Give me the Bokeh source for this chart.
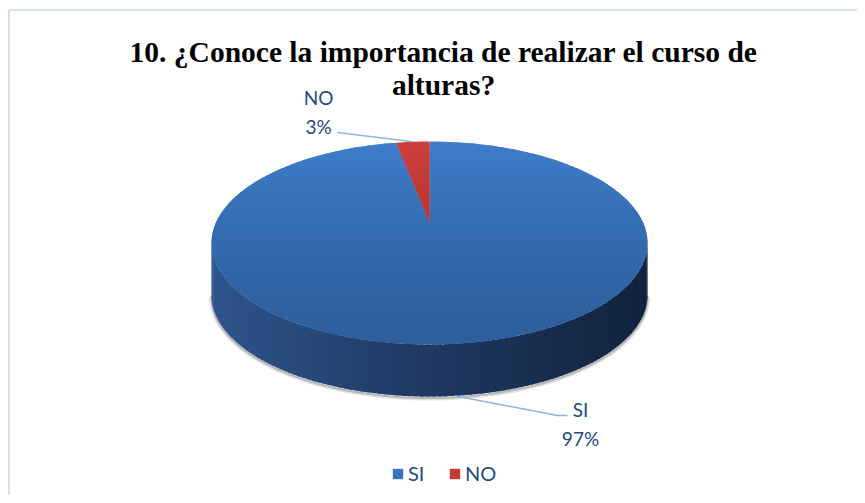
import math
import numpy as np
from bokeh.plotting import figure
from bokeh.models import Range1d, Label, Legend, LegendItem
from bokeh.embed import file_html
from bokeh.resources import INLINE

# ---------------- data ----------------
categories = ["SI", "NO"]
values = [97, 3]
title_lines = ["10. ¿Conoce la importancia de realizar el curso de", "alturas?"]

# ---------------- styles / layout ----------------
top_grad = {"SI": ((62, 126, 201), (45, 94, 157)), "NO": ((204, 64, 60), (165, 44, 43))}
side_grad = ((46, 85, 140), (31, 57, 98), (18, 35, 61))
legend_colors = {"SI": "#3a74bd", "NO": "#c13c39"}
label_color = "#24497f"
leader_color = "#8db3e2"
label_pos = {"SI": (580, 409), "NO": (318, 97)}
leader_end = {"SI": [(557, 415), (567, 415)], "NO": [(337, 132)]}

# perspective pie geometry (screen px)
CX, CY0, KP, PP, AX, DEPTH = 429.0, 222.0, 0.202, -52.5, 213.5, 52.0


def proj(s, t, drop=0.0):
    den = 1.0 + KP * t
    return CX + AX * s / den, (PP * t + CY0) / den + drop


def lerp(c1, c2, f):
    return tuple(int(round(a + (b - a) * f)) for a, b in zip(c1, c2))


def hexc(c):
    return "#%02x%02x%02x" % c


def clip(poly, tlo, thi):
    def clip_half(pts, keep, inter):
        out = []
        n = len(pts)
        for i in range(n):
            cur, prv = pts[i], pts[i - 1]
            if keep(cur):
                if not keep(prv):
                    out.append(inter(prv, cur))
                out.append(cur)
            elif keep(prv):
                out.append(inter(prv, cur))
        return out

    def inter_at(tv):
        def f(a, b):
            u = (tv - a[1]) / (b[1] - a[1])
            return (a[0] + u * (b[0] - a[0]), tv)
        return f

    pts = clip_half(poly, lambda q: q[1] >= tlo, inter_at(tlo))
    if not pts:
        return []
    pts = clip_half(pts, lambda q: q[1] <= thi, inter_at(thi))
    return pts


p = figure(width=857, height=495, output_backend="svg", toolbar_location=None,
           x_range=Range1d(0, 857), y_range=Range1d(495, 0), min_border=0,
           x_axis_location=None, y_axis_location=None)
p.grid.visible = False
p.outline_line_color = None
p.background_fill_color = "white"

# chart border
p.line([8.5, 857], [9.5, 9.5], line_color="#d6e1f0", line_width=2)
p.line([8.5, 8.5], [9.5, 495], line_color="#d6e1f0", line_width=2)

total = float(sum(values))
angles = []
acc = 0.0
for v in values:
    a0 = acc / total * 2 * math.pi
    acc += v
    a1 = acc / total * 2 * math.pi
    angles.append((a0, a1))

# ---- side wall (front visible part) ----
thL = math.acos(-KP)
thR = 2 * math.pi - thL
xa, _ = proj(math.sin(thL), math.cos(thL))
xb, _ = proj(math.sin(thR), math.cos(thR))
x_left, x_right = min(xa, xb), max(xa, xb)

sh = np.linspace(thL, thR, 120)
sx, sy = zip(*[proj(math.sin(a), math.cos(a), DEPTH + 1.5) for a in sh])
p.line(list(sx), list(sy), line_color="#777777", line_alpha=0.22, line_width=5)
p.line(list(sx), list(sy), line_color="#666666", line_alpha=0.35, line_width=2)

side_xs, side_ys, side_cols = [], [], []
for (a0, a1) in angles:
    lo, hi = max(a0, thL), min(a1, thR)
    if hi <= lo:
        continue
    n = max(2, int((hi - lo) / (thR - thL) * 120))
    th = np.linspace(lo, hi, n + 1)
    step = th[1] - th[0]
    for i in range(n):
        b0 = th[i]
        b1 = min(hi, th[i + 1] + 0.6 * step)
        p00 = proj(math.sin(b0), math.cos(b0))
        p10 = proj(math.sin(b1), math.cos(b1))
        p11 = proj(math.sin(b1), math.cos(b1), DEPTH)
        p01 = proj(math.sin(b0), math.cos(b0), DEPTH)
        bm = th[i] + step / 2
        xm, _ = proj(math.sin(bm), math.cos(bm))
        f = (xm - x_left) / (x_right - x_left)
        if f < 0.5:
            c = lerp(side_grad[0], side_grad[1], f / 0.5)
        else:
            c = lerp(side_grad[1], side_grad[2], (f - 0.5) / 0.5)
        side_xs.append([p00[0], p10[0], p11[0], p01[0]])
        side_ys.append([p00[1], p10[1], p11[1], p01[1]])
        side_cols.append(hexc(c))
p.patches(side_xs, side_ys, fill_color=side_cols, line_color=None)

# ---- top faces with vertical gradient ----
NB = 70
tb = np.linspace(1.0, -1.0, NB + 1)
for cat, (a0, a1) in zip(categories, angles):
    m = max(8, int((a1 - a0) / (2 * math.pi) * 360))
    arc = np.linspace(a0, a1, m + 1)
    poly = [(0.0, 0.0)] + [(math.sin(a), math.cos(a)) for a in arc]
    xs, ys, cols = [], [], []
    for i in range(NB):
        thi = tb[i]
        tlo = max(-1.0, tb[i + 1] - 0.02)
        part = clip(poly, tlo, thi)
        if len(part) < 3:
            continue
        pr = [proj(s, t) for s, t in part]
        f = i / (NB - 1)
        c = hexc(lerp(top_grad[cat][0], top_grad[cat][1], f))
        xs.append([q[0] for q in pr])
        ys.append([q[1] for q in pr])
        cols.append(c)
    p.patches(xs, ys, fill_color=cols, line_color=None)

# ---- data labels with leader lines ----
lab_x, lab_y, lab_t = [], [], []
for cat, v, (a0, a1) in zip(categories, values, angles):
    am = (a0 + a1) / 2
    s, t = math.sin(am), math.cos(am)
    front = t < -KP
    anchor = proj(s, t, DEPTH if front else 0.0)
    pts = [anchor] + leader_end[cat]
    p.line([q[0] for q in pts], [q[1] for q in pts], line_color=leader_color, line_width=1.5)
    lx, ly = label_pos[cat]
    lab_x += [lx, lx]
    lab_y += [ly, ly + 29]
    lab_t += [cat, "%d%%" % round(v / total * 100)]
p.text(x=lab_x, y=lab_y, text=lab_t, text_font={"value": "Lato"}, text_font_size="19px",
       text_color=label_color, text_align="center", text_baseline="alphabetic")

# ---- title ----
for i, line in enumerate(title_lines):
    p.add_layout(Label(x=443, y=51 + 33 * i, text=line, text_font="Liberation Serif",
                       text_font_style="bold", text_font_size="29.5px", text_color="black",
                       text_align="center", text_baseline="alphabetic"))

# ---- legend ----
leg_r = []
for cat in categories:
    r = p.quad(left=[0], right=[1], bottom=[0], top=[1], fill_color=legend_colors[cat],
               line_color=None, visible=False)
    leg_r.append(r)
items = [LegendItem(label=c, renderers=[r]) for c, r in zip(categories, leg_r)]
legend = Legend(items=items, orientation="horizontal", location=(391, 10),
                label_text_font="Lato", label_text_font_size="20px",
                label_text_color=label_color, glyph_width=13, glyph_height=13,
                label_standoff=4, spacing=20, padding=0, margin=0,
                border_line_color=None, background_fill_alpha=0)
p.add_layout(legend)

open("out.html", "w").write(file_html(p, INLINE))
